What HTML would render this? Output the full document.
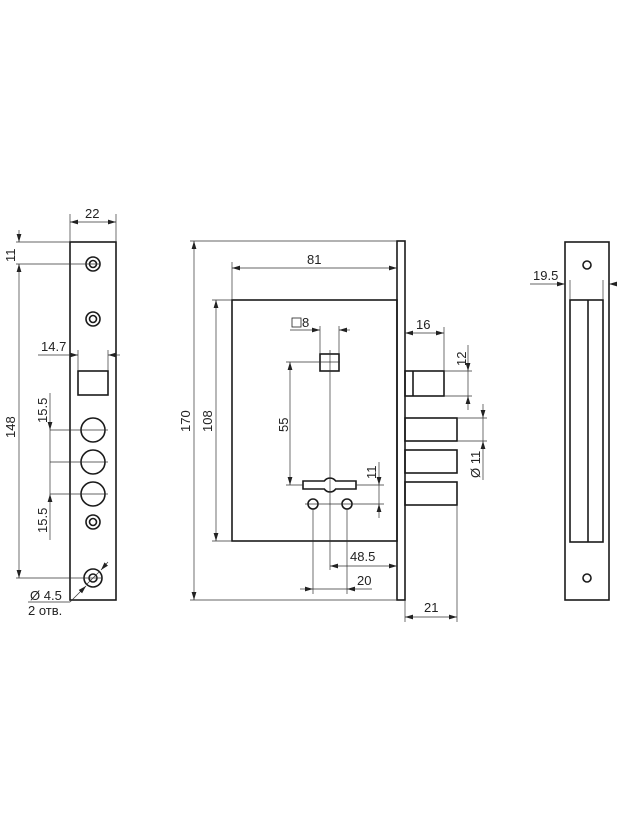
<!DOCTYPE html>
<html><head><meta charset="utf-8"><style>
html,body{margin:0;padding:0;background:#fff;}
svg{display:block;}
text{font-family:"Liberation Sans",sans-serif;font-size:13px;fill:#222;}
.o{fill:none;stroke:#1a1a1a;stroke-width:1.6;}
.d{fill:none;stroke:#333;stroke-width:0.7;}
</style></head><body>
<svg width="624" height="832" viewBox="0 0 624 832" xmlns="http://www.w3.org/2000/svg">
<defs>
<marker id="a" viewBox="0 0 10 6" refX="10" refY="3" markerWidth="8" markerHeight="5" orient="auto-start-reverse" markerUnits="userSpaceOnUse"><path d="M0,0 L10,3 L0,6 Z" fill="#222"/></marker>
</defs>

<!-- LEFT FACEPLATE -->
<rect class="o" x="70" y="242" width="46" height="358"/>
<circle class="o" cx="93" cy="264" r="7"/><circle class="o" cx="93" cy="264" r="3.5"/>
<circle class="o" cx="93" cy="319" r="7"/><circle class="o" cx="93" cy="319" r="3.5"/>
<rect class="o" x="78" y="371" width="30" height="24"/>
<circle class="o" cx="93" cy="430" r="12"/>
<circle class="o" cx="93" cy="462" r="12"/>
<circle class="o" cx="93" cy="494" r="12"/>
<circle class="o" cx="93" cy="522" r="7"/><circle class="o" cx="93" cy="522" r="3.5"/>
<circle class="o" cx="93" cy="578" r="9"/><circle class="o" cx="93" cy="578" r="4"/>
<line class="d" x1="86" y1="585" x2="100" y2="571"/>
<!-- 22 -->
<line class="d" x1="70" y1="214" x2="70" y2="242"/><line class="d" x1="116" y1="214" x2="116" y2="242"/>
<line class="d" x1="70" y1="222" x2="116" y2="222" marker-start="url(#a)" marker-end="url(#a)"/>
<text x="85" y="218">22</text>
<!-- 11 / 148 -->
<line class="d" x1="16" y1="242" x2="70" y2="242"/><line class="d" x1="16" y1="264" x2="100" y2="264"/>
<line class="d" x1="16" y1="578" x2="102" y2="578"/>
<line class="d" x1="19" y1="230" x2="19" y2="242" marker-end="url(#a)"/>
<line class="d" x1="19" y1="264" x2="19" y2="578" marker-start="url(#a)" marker-end="url(#a)"/>
<text transform="translate(15,262) rotate(-90)" >11</text>
<text transform="translate(15,438) rotate(-90)">148</text>
<!-- 14.7 -->
<line class="d" x1="78" y1="350" x2="78" y2="371"/><line class="d" x1="108" y1="350" x2="108" y2="371"/>
<line class="d" x1="38" y1="355" x2="78" y2="355" marker-end="url(#a)"/>
<line class="d" x1="120" y1="355" x2="108" y2="355" marker-end="url(#a)"/>
<text x="41" y="351">14.7</text>
<!-- 15.5 -->
<line class="d" x1="50" y1="430" x2="108" y2="430"/><line class="d" x1="50" y1="462" x2="108" y2="462"/><line class="d" x1="50" y1="494" x2="108" y2="494"/>
<line class="d" x1="50" y1="393" x2="50" y2="430" marker-end="url(#a)"/>
<line class="d" x1="50" y1="430" x2="50" y2="494"/>
<line class="d" x1="50" y1="540" x2="50" y2="494" marker-end="url(#a)"/>
<text transform="translate(47,423) rotate(-90)">15.5</text>
<text transform="translate(47,533) rotate(-90)">15.5</text>
<!-- Ø4.5 -->
<line class="d" x1="28" y1="602" x2="70" y2="602"/><line class="d" x1="70" y1="602" x2="86" y2="586" marker-end="url(#a)"/>
<line class="d" x1="108" y1="562" x2="101" y2="570" marker-end="url(#a)"/>
<text x="30" y="600">Ø 4.5</text>
<text x="28" y="615">2 отв.</text>

<!-- MAIN BODY -->
<rect class="o" x="397" y="241" width="8" height="359"/>
<rect class="o" x="232" y="300" width="165" height="241"/>
<rect class="o" x="320" y="354" width="19" height="17"/>
<path class="o" d="M303,481 H324.3 A7,7 0 0 1 335.7,481 H356 V489 H335.7 A7,7 0 0 1 324.3,489 H303 Z"/>
<circle class="o" cx="313" cy="504" r="5"/><circle class="o" cx="347" cy="504" r="5"/>
<!-- bolts -->
<rect class="o" x="405" y="371" width="39" height="25"/><line class="o" x1="413" y1="371" x2="413" y2="396"/>
<rect class="o" x="405" y="418" width="52" height="23"/>
<rect class="o" x="405" y="450" width="52" height="23"/>
<rect class="o" x="405" y="482" width="52" height="23"/>
<!-- 170 -->
<line class="d" x1="190" y1="241" x2="397" y2="241"/><line class="d" x1="190" y1="600" x2="397" y2="600"/>
<line class="d" x1="194" y1="241" x2="194" y2="600" marker-start="url(#a)" marker-end="url(#a)"/>
<text transform="translate(190,432) rotate(-90)">170</text>
<!-- 108 -->
<line class="d" x1="212" y1="300" x2="232" y2="300"/><line class="d" x1="212" y1="541" x2="232" y2="541"/>
<line class="d" x1="216" y1="300" x2="216" y2="541" marker-start="url(#a)" marker-end="url(#a)"/>
<text transform="translate(212,432) rotate(-90)">108</text>
<!-- 81 -->
<line class="d" x1="232" y1="262" x2="232" y2="300"/>
<line class="d" x1="232" y1="268" x2="397" y2="268" marker-start="url(#a)" marker-end="url(#a)"/>
<text x="307" y="264">81</text>
<!-- □8 -->
<line class="d" x1="320" y1="326" x2="320" y2="354"/><line class="d" x1="339" y1="326" x2="339" y2="354"/>
<line class="d" x1="290" y1="330" x2="320" y2="330" marker-end="url(#a)"/>
<line class="d" x1="350" y1="330" x2="339" y2="330" marker-end="url(#a)"/>
<rect x="292" y="318" width="9" height="9" fill="none" stroke="#222" stroke-width="0.8"/>
<text x="302" y="327">8</text>
<!-- center line -->
<line class="d" x1="330" y1="350" x2="330" y2="570"/>
<!-- 55 -->
<line class="d" x1="286" y1="362" x2="340" y2="362"/><line class="d" x1="286" y1="485" x2="303" y2="485"/>
<line class="d" x1="290" y1="362" x2="290" y2="485" marker-start="url(#a)" marker-end="url(#a)"/>
<text transform="translate(288,432) rotate(-90)">55</text>
<!-- 11 keyhole -->
<line class="d" x1="356" y1="485" x2="384" y2="485"/><line class="d" x1="305" y1="504" x2="384" y2="504"/>
<line class="d" x1="379" y1="462" x2="379" y2="485" marker-end="url(#a)"/>
<line class="d" x1="379" y1="485" x2="379" y2="504"/>
<line class="d" x1="379" y1="518" x2="379" y2="504" marker-end="url(#a)"/>
<text transform="translate(376,479) rotate(-90)">11</text>
<!-- 48.5 -->
<line class="d" x1="330" y1="566" x2="397" y2="566" marker-start="url(#a)" marker-end="url(#a)"/>
<text x="350" y="561">48.5</text>
<!-- 20 -->
<line class="d" x1="313" y1="509" x2="313" y2="594"/><line class="d" x1="347" y1="509" x2="347" y2="594"/>
<line class="d" x1="300" y1="589" x2="313" y2="589" marker-end="url(#a)"/>
<line class="d" x1="313" y1="589" x2="347" y2="589"/>
<line class="d" x1="372" y1="589" x2="347" y2="589" marker-end="url(#a)"/>
<text x="357" y="585">20</text>
<!-- 16 -->
<line class="d" x1="444" y1="327" x2="444" y2="371"/>
<line class="d" x1="405" y1="333" x2="444" y2="333" marker-start="url(#a)" marker-end="url(#a)"/>
<text x="416" y="329">16</text>
<!-- 12 -->
<line class="d" x1="444" y1="371" x2="472" y2="371"/><line class="d" x1="444" y1="396" x2="472" y2="396"/>
<line class="d" x1="468" y1="345" x2="468" y2="371" marker-end="url(#a)"/>
<line class="d" x1="468" y1="371" x2="468" y2="396"/>
<line class="d" x1="468" y1="410" x2="468" y2="396" marker-end="url(#a)"/>
<text transform="translate(466,366) rotate(-90)">12</text>
<!-- Ø11 -->
<line class="d" x1="457" y1="418" x2="487" y2="418"/><line class="d" x1="457" y1="441" x2="487" y2="441"/>
<line class="d" x1="483" y1="404" x2="483" y2="418" marker-end="url(#a)"/>
<line class="d" x1="483" y1="418" x2="483" y2="441"/>
<line class="d" x1="483" y1="480" x2="483" y2="441" marker-end="url(#a)"/>
<text transform="translate(480,478) rotate(-90)">Ø 11</text>
<!-- 21 -->
<line class="d" x1="405" y1="600" x2="405" y2="622"/><line class="d" x1="457" y1="505" x2="457" y2="622"/>
<line class="d" x1="405" y1="617" x2="457" y2="617" marker-start="url(#a)" marker-end="url(#a)"/>
<text x="424" y="612">21</text>

<!-- RIGHT STRIKE -->
<rect class="o" x="565" y="242" width="44" height="358"/>
<rect class="o" x="570" y="300" width="33" height="242"/>
<line class="o" x1="588" y1="300" x2="588" y2="542"/>
<circle class="o" cx="587" cy="265" r="4"/><circle class="o" cx="587" cy="578" r="4"/>
<line class="d" x1="570" y1="280" x2="570" y2="300"/><line class="d" x1="603" y1="280" x2="603" y2="300"/>
<line class="d" x1="530" y1="284" x2="565" y2="284" marker-end="url(#a)"/>
<line class="d" x1="615" y1="284" x2="609" y2="284" marker-end="url(#a)"/>
<text x="533" y="280">19.5</text>
</svg>
</body></html>
